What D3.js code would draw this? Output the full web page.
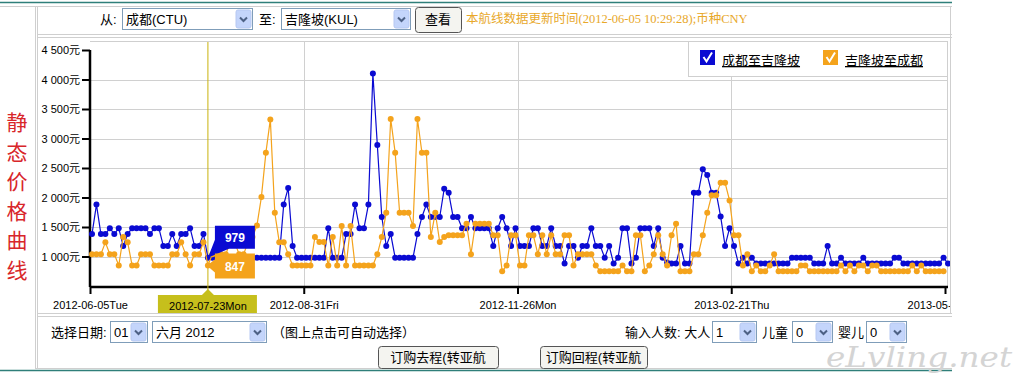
<!DOCTYPE html>
<html lang="zh">
<head>
<meta charset="UTF-8">
<title>静态价格曲线</title>
<style>
  * { margin: 0; padding: 0; box-sizing: border-box; }
  html, body { width: 1024px; height: 376px; background: #fff; overflow: hidden; }
  svg { display: block; font-family: "Liberation Sans", Arial, "Noto Sans CJK SC", sans-serif; }
</style>
</head>
<body>
<svg id="page" width="1024" height="376"></svg>
<script src="https://d3js.org/d3.v7.min.js"></script>
<script>
// ---- data ----
const seriesNames = ["成都至吉隆坡", "吉隆坡至成都"];
const seriesColors = ["#0a0ad2", "#f4a31c"];

// 成都 -> 吉隆坡 (blue)
const toKUL = [
  1380,1880,1380,1380,1480,1380,1480,1180,1380,1480,1480,1480,1480,1380,1480,1480,1180,1180,1380,1180,1380,1380,1480,1180,1180,1380,979,
  979,979,979,979,979,979,979,979,979,979,979,979,979,979,979,979,1880,2160,1180,
  979,979,979,979,979,979,979,1480,979,979,979,1380,1380,1880,1480,1480,1880,4100,2890,1670,1180,1380,979,979,979,979,979,1380,1670,1880,1670,1670,1670,2150,2080,1670,1670,1480,1480,1670,1480,1480,1480,1480,1180,1480,1670,1480,1180,
  1480,1180,1180,1180,1480,1480,1180,1180,1480,1180,1180,880,1180,1180,979,1180,1180,1480,1180,1180,979,1180,880,979,1480,1480,880,979,1480,1480,1480,1180,1480,979,900,880,880,1180,880,880,2080,2080,2480,2380,2080,2080,1680,1180,1480,1180,
  880,979,880,979,880,880,880,880,880,880,880,880,979,979,979,979,979,880,880,880,1180,880,880,979,880,880,880,880,979,880,880,880,880,880,880,979,979,880,880,880,880,880,880,880,880,880,979,880
];

// 吉隆坡 -> 成都 (orange)
const toCTU = [
  1040,1040,1040,1240,1040,1040,847,1330,1240,847,847,1040,1040,1040,847,847,847,847,1040,1040,1240,1040,847,1040,1040,1240,847,
  1040,1040,1040,1040,1240,1240,1040,1040,1240,1330,1527,2010,2757,3324,1742,1243,1243,1040,847,
  847,847,847,847,1330,1245,1245,847,1330,847,1515,847,1515,847,847,847,847,847,1040,1330,1742,3330,2760,1742,1742,1742,1515,3330,2760,2760,1330,1742,1245,1330,1360,1360,1360,1360,1555,1040,1555,1555,1555,1555,1360,1360,750,847,1360,
  1360,847,847,1360,1360,1040,1360,1040,1360,1040,1040,1360,1360,847,1040,1040,1040,1040,847,750,750,750,750,750,847,750,750,1360,1360,750,847,1040,1360,1040,847,1360,1555,750,750,750,1040,1040,1360,1742,2040,2040,2250,2250,1950,1360,
  1360,847,1040,750,847,750,750,847,1040,750,750,750,750,750,847,847,750,750,750,750,750,750,750,847,750,847,750,847,847,750,847,847,750,750,750,750,750,750,750,847,750,847,750,750,750,750,750
];

const yTicks = [1000, 1500, 2000, 2500, 3000, 3500, 4000, 4500];
const tickDates = ["2012-06-05", "2012-08-31", "2012-11-26", "2013-02-21", "2013-05-19"];
const selectedDate = "2012-07-23";
const selectedIndex = 26;

const parseDate = d3.timeParse("%Y-%m-%d");
const fmtTick = d3.timeFormat("%Y-%m-%d%a");
const fmtYuan = v => d3.format(",")(v).replace(",", " ") + "元";

const svg = d3.select("#page");

// ---- frame lines ----
const frame = svg.append("g").attr("fill", "none");
frame.append("line").attr("x1", 0).attr("x2", 952).attr("y1", 2.5).attr("y2", 2.5).attr("stroke", "#2f7f7a").attr("stroke-width", 1.5);
frame.append("line").attr("x1", 0).attr("x2", 952).attr("y1", 370.5).attr("y2", 370.5).attr("stroke", "#2f7f7a").attr("stroke-width", 1.5);
frame.append("line").attr("x1", 0).attr("x2", 952).attr("y1", 6.5).attr("y2", 6.5).attr("stroke", "#cfcfcf");
frame.append("line").attr("x1", 36).attr("x2", 952).attr("y1", 368.5).attr("y2", 368.5).attr("stroke", "#cfcfcf");
frame.append("line").attr("x1", 35.5).attr("x2", 35.5).attr("y1", 6).attr("y2", 369).attr("stroke", "#cfcfcf");
frame.append("line").attr("x1", 37.5).attr("x2", 37.5).attr("y1", 6).attr("y2", 369).attr("stroke", "#cfcfcf");
frame.append("line").attr("x1", 37).attr("x2", 952).attr("y1", 34.5).attr("y2", 34.5).attr("stroke", "#cfcfcf");
frame.append("line").attr("x1", 37).attr("x2", 952).attr("y1", 37.5).attr("y2", 37.5).attr("stroke", "#cfcfcf");
frame.append("line").attr("x1", 37).attr("x2", 952).attr("y1", 313.5).attr("y2", 313.5).attr("stroke", "#cfcfcf");
frame.append("line").attr("x1", 37).attr("x2", 952).attr("y1", 316.5).attr("y2", 316.5).attr("stroke", "#cfcfcf");
frame.append("line").attr("x1", 950.5).attr("x2", 950.5).attr("y1", 6).attr("y2", 314).attr("stroke", "#cfcfcf");

// ---- left vertical title ----
svg.append("g")
  .selectAll("text")
  .data("静态价格曲线".split(""))
  .join("text")
  .attr("x", 17)
  .attr("y", (d, i) => 130 + i * 29.5)
  .attr("text-anchor", "middle")
  .attr("font-size", 21)
  .attr("fill", "#d8262a")
  .text(d => d);

// ---- form widgets ----
function selectBox(x, y, w, h, label) {
  const g = svg.append("g");
  g.append("rect").attr("x", x + 0.5).attr("y", y + 0.5).attr("width", w).attr("height", h)
    .attr("fill", "#fff").attr("stroke", "#7f9db9");
  g.append("text").attr("x", x + 4).attr("y", y + h / 2 + 5).attr("font-size", 13).attr("fill", "#000").text(label);
  g.append("rect").attr("x", x + w - 16).attr("y", y + 2).attr("width", 15).attr("height", h - 3)
    .attr("rx", 2).attr("fill", "#c4d5fb").attr("stroke", "#b6c8f2");
  const cx = x + w - 8.5, cy = y + h / 2 + 1;
  g.append("path").attr("d", `M${cx - 3.5},${cy - 2} L${cx},${cy + 1.5} L${cx + 3.5},${cy - 2}`)
    .attr("fill", "none").attr("stroke", "#4d6185").attr("stroke-width", 2);
}
function button(x, y, w, h, label) {
  const g = svg.append("g");
  g.append("rect").attr("x", x + 0.5).attr("y", y + 0.5).attr("width", w).attr("height", h).attr("rx", 3)
    .attr("fill", "#f4f4f0").attr("stroke", "#555");
  g.append("text").attr("x", x + w / 2).attr("y", y + h / 2 + 4.5).attr("text-anchor", "middle")
    .attr("font-size", 13).attr("fill", "#000").text(label);
}
function label(x, y, txt, size, color) {
  svg.append("text").attr("x", x).attr("y", y).attr("font-size", size || 12).attr("fill", color || "#000").text(txt);
}

// watermark (drawn first so the controls sit on top)
svg.append("text").attr("x", 826).attr("y", 367).attr("font-size", 27)
  .attr("font-family", "'DejaVu Serif', serif").attr("font-style", "italic")
  .attr("textLength", 186).attr("lengthAdjust", "spacingAndGlyphs")
  .attr("fill", "#d4d4d4").text("eLvling.net");

// top toolbar
label(100, 24, "从:", 13);
selectBox(122, 8, 130, 21, "成都(CTU)");
label(259, 24, "至:", 13);
selectBox(281, 8, 129, 21, "吉隆坡(KUL)");
button(415, 7, 46, 25, "查看");
svg.append("text").attr("x", 466).attr("y", 23).attr("font-size", 12.5)
  .attr("font-family", "'Liberation Serif', 'Noto Sans CJK SC', serif")
  .attr("fill", "#e8a82a").text("本航线数据更新时间(2012-06-05 10:29:28);币种CNY");

// bottom controls
label(51, 337, "选择日期:", 13);
selectBox(110, 321, 37, 21, "01");
selectBox(152, 321, 114, 21, "六月  2012");
label(272, 337, "（图上点击可自动选择）", 13);
label(625, 337, "输入人数: 大人", 13);
selectBox(712, 321, 44, 21, "1");
label(762, 337, "儿童", 13);
selectBox(792, 321, 40, 21, "0");
label(838, 337, "婴儿", 13);
selectBox(866, 321, 40, 21, "0");
button(378, 346, 120, 22, "订购去程(转亚航");
button(540, 346, 107, 22, "订购回程(转亚航");

// ---- chart ----
const plot = { left: 90, right: 948, top: 41, bottom: 287 };
const y = d3.scaleLinear().domain([500, 4500]).range([286, 50]);
const xt = d3.scaleTime().domain([parseDate(tickDates[0]), parseDate(tickDates[4])]).range([90, 945]);
const xi = d3.scaleLinear().domain([0, toKUL.length - 1]).range([92, 948]);

svg.append("defs").append("clipPath").attr("id", "clip")
  .append("rect").attr("x", 38).attr("y", 38).attr("width", 912).attr("height", 275);

const chart = svg.append("g").attr("clip-path", "url(#clip)");

// grid
chart.append("line").attr("x1", plot.left).attr("x2", plot.right).attr("y1", plot.top + 0.5).attr("y2", plot.top + 0.5).attr("stroke", "#cfcfcf");
chart.append("line").attr("x1", plot.right - 0.5).attr("x2", plot.right - 0.5).attr("y1", plot.top).attr("y2", plot.bottom).attr("stroke", "#cfcfcf");
chart.append("g").selectAll("line").data(yTicks.filter(v => v < 4500)).join("line")
  .attr("x1", plot.left).attr("x2", plot.right)
  .attr("y1", d => Math.round(y(d)) + 0.5).attr("y2", d => Math.round(y(d)) + 0.5)
  .attr("stroke", "#d0d0d0");
chart.append("g").selectAll("line").data(tickDates.slice(1, 4)).join("line")
  .attr("x1", d => Math.round(xt(parseDate(d))) + 0.5).attr("x2", d => Math.round(xt(parseDate(d))) + 0.5)
  .attr("y1", plot.top).attr("y2", plot.bottom).attr("stroke", "#d0d0d0");

// y axis
const yAxis = d3.axisLeft(y).tickValues(yTicks).tickFormat(fmtYuan).tickSize(8).tickPadding(2);
const yg = chart.append("g").attr("transform", "translate(90,0)").call(yAxis);
yg.select(".domain").attr("d", `M0,${y(4500)}V${plot.bottom}`).attr("stroke", "#000").attr("stroke-width", 2.5);
yg.selectAll(".tick line").attr("stroke", "#000").attr("stroke-width", 2);
yg.selectAll(".tick text").attr("font-size", 11).attr("font-family", "'Liberation Sans', Arial, 'Noto Sans CJK SC', sans-serif").attr("fill", "#000");

// x axis
const xAxis = d3.axisBottom(xt).tickValues(tickDates.map(parseDate)).tickFormat(fmtTick).tickSize(7).tickPadding(7);
const xg = chart.append("g").attr("transform", `translate(0,${plot.bottom})`).call(xAxis);
xg.select(".domain").attr("d", `M${plot.left},0H${plot.right}`).attr("stroke", "#000").attr("stroke-width", 2.5);
xg.selectAll(".tick line").attr("stroke", "#000").attr("stroke-width", 2);
xg.selectAll(".tick text").attr("font-size", 11).attr("font-family", "'Liberation Sans', Arial, sans-serif").attr("fill", "#000");

// legend
const lg = chart.append("g");
lg.append("rect").attr("x", 688.5).attr("y", 41.5).attr("width", 259).attr("height", 35)
  .attr("fill", "#fff").attr("stroke", "#cfcfcf");
const legendX = [700, 823];
seriesNames.forEach((name, i) => {
  const bx = legendX[i];
  lg.append("rect").attr("x", bx).attr("y", 50).attr("width", 15).attr("height", 15).attr("fill", seriesColors[i]);
  lg.append("path").attr("d", `M${bx + 3.5},${57} L${bx + 6.5},${61.5} L${bx + 12},${52.5}`)
    .attr("fill", "none").attr("stroke", "#fff").attr("stroke-width", 2);
  lg.append("text").attr("x", bx + 22).attr("y", 65).attr("font-size", 13)
    .attr("text-decoration", "underline").attr("fill", "#000").text(name);
});

// selected date cursor
const selX = xi(selectedIndex);
chart.append("line").attr("x1", selX).attr("x2", selX).attr("y1", plot.top + 1).attr("y2", 296)
  .attr("stroke", "#c9b20c").attr("stroke-width", 1);

// series
const line = d3.line().x((d, i) => xi(i)).y(d => y(d));
[toKUL, toCTU].forEach((vals, k) => {
  const g = chart.append("g");
  g.append("path").datum(vals).attr("d", line).attr("fill", "none")
    .attr("stroke", seriesColors[k]).attr("stroke-width", 1.2);
  g.selectAll("circle").data(vals).join("circle")
    .attr("cx", (d, i) => xi(i)).attr("cy", d => y(d)).attr("r", 3)
    .attr("fill", seriesColors[k]);
});

// selected date label on the axis
const tag = chart.append("g");
tag.append("path").attr("d", `M${selX - 7},296 L${selX},289 L${selX + 7},296 Z`).attr("fill", "#c6bf1c");
tag.append("rect").attr("x", selX - 50).attr("y", 295).attr("width", 99).attr("height", 18).attr("fill", "#c6bf1c");
tag.append("text").attr("x", selX).attr("y", 310).attr("text-anchor", "middle").attr("font-size", 11)
  .attr("fill", "#000").text(fmtTick(parseDate(selectedDate)));

// value callouts
const bY = y(toKUL[selectedIndex]), oY = y(toCTU[selectedIndex]);
const tipX = selX + 7;
chart.append("path")
  .attr("d", `M${tipX},${bY - 32} H${tipX + 40} V${bY - 9} H${tipX + 14} L${selX},${bY} L${tipX},${bY - 18} Z`)
  .attr("fill", seriesColors[0]);
chart.append("text").attr("x", tipX + 20).attr("y", bY - 16).attr("text-anchor", "middle")
  .attr("font-size", 12).attr("font-weight", "bold").attr("fill", "#fff").text(toKUL[selectedIndex]);
chart.append("path")
  .attr("d", `M${tipX},${oY - 12} H${tipX + 40} V${oY + 13} H${tipX} V${oY + 7} L${selX - 1},${oY} L${tipX},${oY - 6} Z`)
  .attr("fill", seriesColors[1]);
chart.append("text").attr("x", tipX + 20).attr("y", oY + 5).attr("text-anchor", "middle")
  .attr("font-size", 12).attr("font-weight", "bold").attr("fill", "#fff").text(toCTU[selectedIndex]);
</script>
</body>
</html>
